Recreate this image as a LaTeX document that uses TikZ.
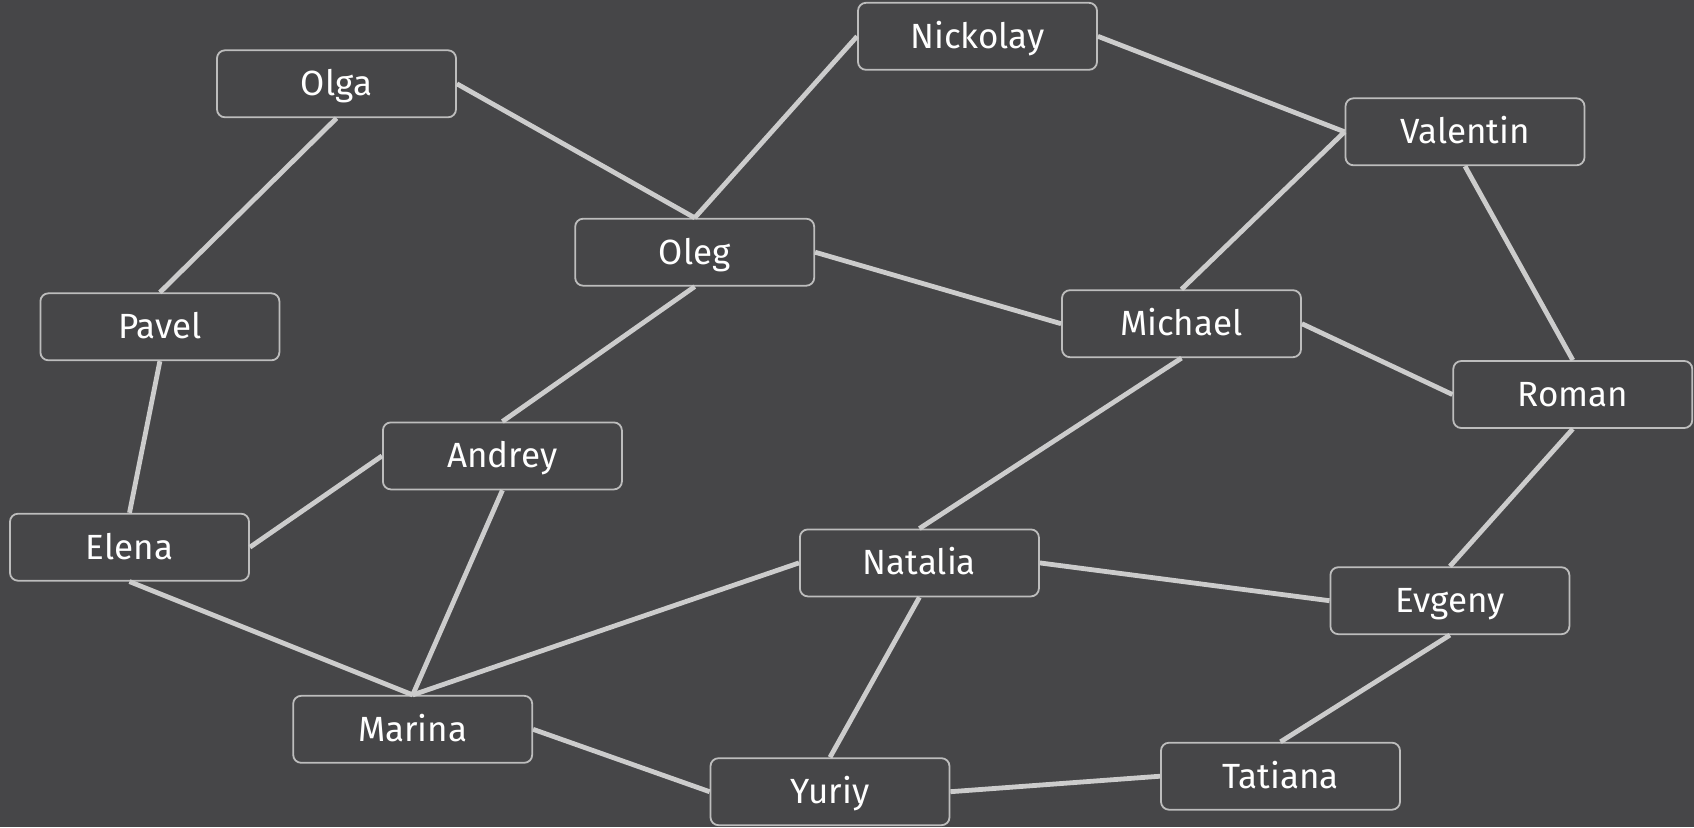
\documentclass[tikz,border=0pt]{standalone}
\usepackage{fontspec}
\setmainfont{Fira Sans}
\usepackage{xcolor}
\usetikzlibrary{positioning, calc}
\definecolor{bgdark}{HTML}{464648}
\definecolor{edgegray}{HTML}{CCCCCC}
\definecolor{frame}{HTML}{BDBDBD}
\tikzset{
    person/.style={rectangle, rounded corners=4pt, draw=frame, fill=bgdark,
                   line width=0.9pt, minimum width=119.5pt, minimum height=33.5pt,
                   inner sep=0pt, text height=12pt, text depth=0pt, text=white,
                   font=\fontsize{17.5}{19}\selectfont},
    link/.style={line width=2.4pt, draw=edgegray}
}

\begin{document}
\begin{tikzpicture}[x=0.5pt, y=-0.5pt]

  % --- Background ---
  \fill[bgdark] (0,0) rectangle (1694,827);
  \useasboundingbox (0,0) rectangle (1694,827);

  % --- People ---
  \node[person] (olga)     at (336.5, 83.8)  {Olga};
  \node[person] (nickolay) at (977.5, 36.3)  {Nickolay};
  \node[person] (valentin) at (1465, 131.8)  {Valentin};
  \node[person] (oleg)     at (694.7, 252.2) {Oleg};
  \node[person] (pavel)    at (159.9, 326.8) {Pavel};
  \node[person] (michael)  at (1181.5, 323.7){Michael};
  \node[person] (roman)    at (1572.8, 394.5){Roman};
  \node[person] (andrey)   at (502.4, 455.9) {Andrey};
  \node[person] (elena)    at (129.5, 547.2) {Elena};
  \node[person] (natalia)  at (919.4, 562.9) {Natalia};
  \node[person] (evgeny)   at (1449.9, 600.7){Evgeny};
  \node[person] (marina)   at (412.7, 729.3) {Marina};
  \node[person] (yuriy)    at (830, 791.7)   {Yuriy};
  \node[person] (tatiana)  at (1280.5, 776.2){Tatiana};

  % --- Links ---
  \draw[link] (olga.south)     -- (pavel.north);
  \draw[link] (olga.east)      -- (oleg.north);
  \draw[link] (nickolay.west)  -- (oleg.north);
  \draw[link] (nickolay.east)  -- (valentin.west);
  \draw[link] (valentin.west)  -- (michael.north);
  \draw[link] (valentin.south) -- (roman.north);
  \draw[link] (oleg.east)      -- (michael.west);
  \draw[link] (oleg.south)     -- (andrey.north);
  \draw[link] (michael.east)   -- (roman.west);
  \draw[link] (michael.south)  -- (natalia.north);
  \draw[link] (pavel.south)    -- (elena.north);
  \draw[link] (andrey.west)    -- (elena.east);
  \draw[link] (elena.south)    -- (marina.north);
  \draw[link] (andrey.south)   -- (marina.north);
  \draw[link] (natalia.west)   -- (marina.north);
  \draw[link] (natalia.east)   -- (evgeny.west);
  \draw[link] (natalia.south)  -- (yuriy.north);
  \draw[link] (roman.south)    -- (evgeny.north);
  \draw[link] (evgeny.south)   -- (tatiana.north);
  \draw[link] (marina.east)    -- (yuriy.west);
  \draw[link] (yuriy.east)     -- (tatiana.west);

\end{tikzpicture}
\end{document}
